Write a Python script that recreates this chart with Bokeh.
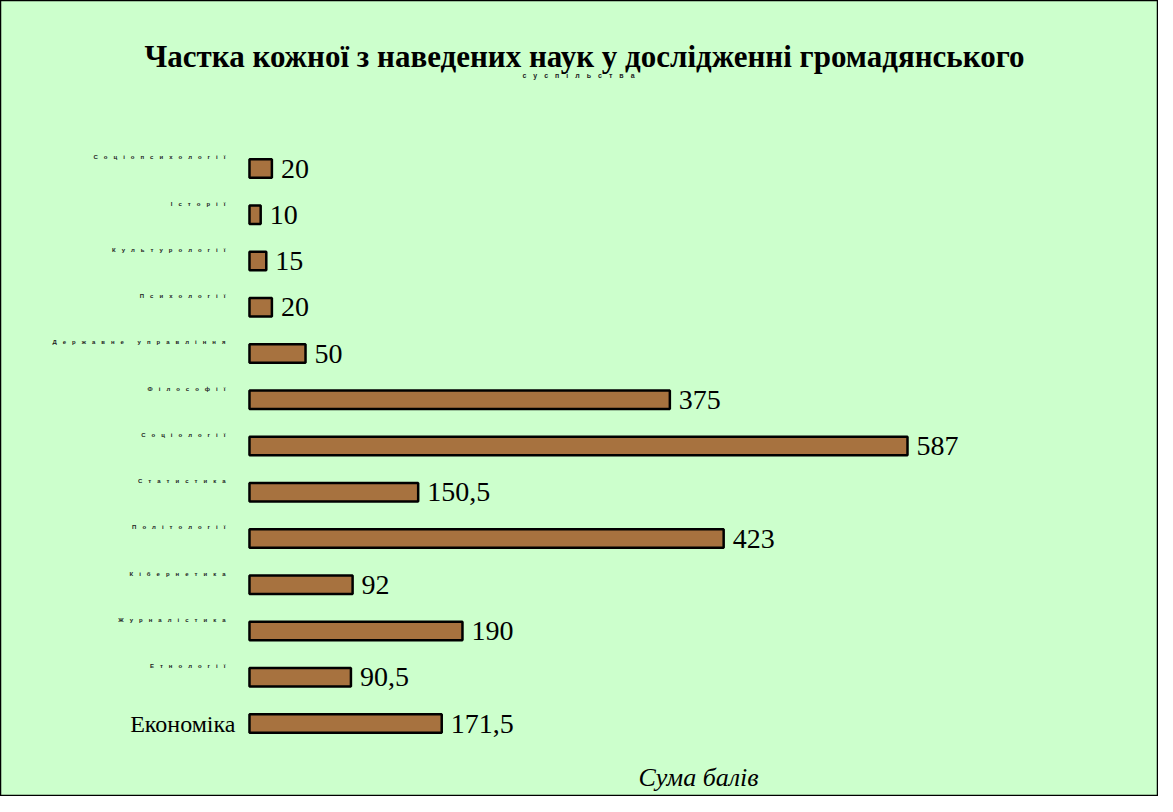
from bokeh.plotting import figure
from bokeh.models import ColumnDataSource, Range1d, Label
from bokeh.core.properties import value
from bokeh.embed import file_html
from bokeh.resources import INLINE

# ---- data (bottom to top) ----
categories = ["Економіка", "Етнології", "Журналістика", "Кібернетика", "Політології",
              "Статистика", "Соціології", "Філософії", "Державне управління",
              "Психології", "Культурології", "Історії", "Соціопсихології"]
scores = [171.5, 90.5, 190, 92, 423, 150.5, 587, 375, 50, 20, 15, 10, 20]
score_labels = ["171,5", "90,5", "190", "92", "423", "150,5", "587", "375", "50",
                "20", "15", "10", "20"]
title_main = "Частка кожної з наведених наук у дослідженні громадянського"
title_sub = "суспільства"
x_title = "Сума балів"

BG = "#CCFFCC"
BAR = "#A7723F"

W, H = 1158, 796
pos = list(range(len(categories)))

def spaced(s):
    return "\u2003".join(list(s))

src = ColumnDataSource(dict(y=pos, v=scores, lab=score_labels))

p = figure(width=W, height=H, output_backend="svg", toolbar_location=None,
           x_axis_type=None, y_axis_type=None, title=None,
           x_range=Range1d(-222.1, 810.9), y_range=Range1d(-1.578, 15.633),
           min_border=0)
p.background_fill_color = BG
p.border_fill_color = BG
p.outline_line_color = "black"
p.outline_line_width = 1.5
p.xgrid.visible = False
p.ygrid.visible = False

p.hbar(y="y", left=0, right="v", height=0.4, source=src,
       fill_color=BAR, line_color="black", line_width=2.5)

p.text(x="v", y="y", text="lab", source=src, x_offset=9,
       text_font=value("Liberation Serif"), text_font_size="28px",
       text_baseline="middle", text_align="left", text_color="black")

# category labels
small = ColumnDataSource(dict(
    y=[i + 0.24 for i in pos[1:]],
    x=[0] * (len(pos) - 1),
    t=[spaced(c) for c in categories[1:]]))
p.text(x="x", y="y", text="t", source=small, x_offset=-24,
       text_font=value("Liberation Sans"), text_font_style="bold",
       text_font_size="6px", text_baseline="middle", text_align="right",
       text_color="#222222")

big = ColumnDataSource(dict(y=[pos[0]], x=[0], t=[categories[0]]))
p.text(x="x", y="y", text="t", source=big, x_offset=-14,
       text_font=value("Liberation Serif"), text_font_size="24px",
       text_baseline="middle", text_align="right", text_color="black")

p.add_layout(Label(x=584, y=740, x_units="screen", y_units="screen",
                   text=title_main, text_font="Liberation Serif",
                   text_font_style="bold", text_font_size="31px",
                   text_align="center", text_baseline="alphabetic",
                   text_color="black"))
p.add_layout(Label(x=578, y=721, x_units="screen", y_units="screen",
                   text=spaced(title_sub), text_font="Liberation Sans",
                   text_font_style="bold", text_font_size="7px",
                   text_align="center", text_baseline="alphabetic",
                   text_color="#222222"))
p.add_layout(Label(x=698, y=19, x_units="screen", y_units="screen",
                   text=x_title, text_font="Liberation Serif",
                   text_font_style="italic", text_font_size="26px",
                   text_align="center", text_baseline="alphabetic",
                   text_color="black"))

open("out.html", "w").write(file_html(p, INLINE))
